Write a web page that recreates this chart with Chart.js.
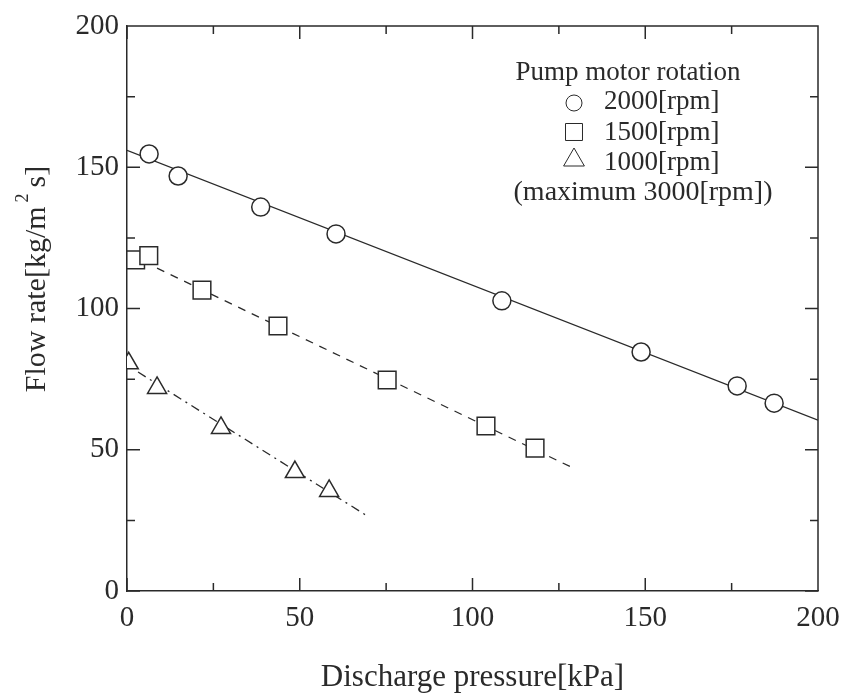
<!DOCTYPE html>
<html>
<head>
<meta charset="utf-8">
<script src="https://cdn.jsdelivr.net/npm/chart.js@4/dist/chart.umd.min.js"></script>
<style>
  html, body { margin: 0; background: #fff; }
  #wrap { width: 846px; height: 693px; }
</style>
</head>
<body>
<div id="wrap"><canvas id="chart"></canvas></div>
<script>
const press2000 = [6.4, 14.8, 38.7, 60.5, 108.5, 148.8, 176.6, 187.3];
const flow2000 = [154.7, 146.9, 135.9, 126.4, 102.7, 84.6, 72.6, 66.5];
const press1500 = [2.5, 6.3, 21.7, 43.7, 75.3, 103.9, 118.1];
const flow1500 = [117.2, 118.7, 106.5, 93.8, 74.7, 58.4, 50.6];
const press1000 = [0.5, 8.7, 27.2, 48.6, 58.5];
const flow1000 = [80.6, 71.9, 57.7, 42.1, 35.4];

// fitted lines (end points)
const fit2000 = [[0, 156], [200, 60.5]];
const fit1500 = [[8.7, 114.3], [128.5, 43.9]];
const fit1000 = [[3.2, 77.5], [70.0, 26.2]];

const legendLabels = ["2000[rpm]", "1500[rpm]", "1000[rpm]"];

const INK = '#2a2a2a';
const FONT = '"Liberation Serif", "DejaVu Serif", serif';

function pts(xs, ys) {
  return xs.map((x, i) => ({ x: x, y: ys[i] }));
}
function line(p) {
  return p.map(([x, y]) => ({ x, y }));
}

// inward ticks on all four sides + top/right frame
const frameTicks = {
  id: 'frameTicks',
  afterDatasetsDraw(chart) {
    const { ctx, chartArea: a, scales } = chart;
    ctx.save();
    ctx.strokeStyle = INK;
    ctx.lineWidth = 1.5;
    ctx.beginPath();
    ctx.moveTo(a.left, a.top); ctx.lineTo(a.right, a.top); ctx.lineTo(a.right, a.bottom);
    for (let v = 0; v <= 200; v += 25) {
      const len = v % 50 === 0 ? 13 : 8;
      const px = scales.x.getPixelForValue(v);
      ctx.moveTo(px, a.bottom); ctx.lineTo(px, a.bottom - len);
      ctx.moveTo(px, a.top); ctx.lineTo(px, a.top + len);
      const py = scales.y.getPixelForValue(v);
      ctx.moveTo(a.left, py); ctx.lineTo(a.left + len, py);
      ctx.moveTo(a.right, py); ctx.lineTo(a.right - len, py);
    }
    ctx.stroke();
    ctx.restore();
  }
};

// y title with raised 2, legend box inside the plot
const extraText = {
  id: 'extraText',
  afterDraw(chart) {
    const { ctx } = chart;
    ctx.save();
    ctx.fillStyle = INK;
    ctx.strokeStyle = INK;

    // y axis title
    ctx.translate(45, 279);
    ctx.rotate(-Math.PI / 2);
    ctx.textBaseline = 'alphabetic';
    ctx.textAlign = 'left';
    const big = '30px ' + FONT, small = '18px ' + FONT;
    ctx.font = big;
    const w1 = ctx.measureText('Flow rate[kg/m').width;
    const w3 = ctx.measureText('s]').width;
    ctx.font = small;
    const w2 = ctx.measureText('2').width;
    const total = w1 + 4 + w2 + 6 + w3;
    let x0 = -total / 2;
    ctx.font = big;
    ctx.fillText('Flow rate[kg/m', x0, 0);
    ctx.font = small;
    ctx.fillText('2', x0 + w1 + 4, -17);
    ctx.font = big;
    ctx.fillText('s]', x0 + w1 + 4 + w2 + 6, 0);
    ctx.setTransform(1, 0, 0, 1, 0, 0);

    // legend
    ctx.textBaseline = 'middle';
    ctx.textAlign = 'center';
    ctx.font = '27px ' + FONT;
    ctx.fillText('Pump motor rotation', 628, 73);
    const styles = ['circle', 'rect', 'triangle'];
    const radii = [8, 12, 12];
    const markY = [103, 132, 160];
    legendLabels.forEach((t, i) => {
      const y = 102 + i * 30.5;
      ctx.fillStyle = '#fff';
      Chart.helpers.drawPoint(ctx, { pointStyle: styles[i], radius: radii[i], rotation: 0, borderWidth: 1.5 }, 574, markY[i]);
      ctx.fillStyle = INK;
      ctx.textAlign = 'left';
      ctx.fillText(t, 604, y);
    });
    ctx.textAlign = 'center';
    ctx.font = '28px ' + FONT;
    ctx.fillText('(maximum 3000[rpm])', 643, 193);
    ctx.restore();
  }
};

const markerBase = {
  showLine: false,
  borderColor: INK,
  backgroundColor: '#fff',
  borderWidth: 1.5,
  order: 0
};
const fitBase = {
  showLine: true,
  pointRadius: 0,
  borderColor: INK,
  borderWidth: 1.3,
  fill: false,
  order: 1
};

new Chart(document.getElementById('chart'), {
  type: 'scatter',
  data: {
    datasets: [
      { ...fitBase, data: line(fit2000) },
      { ...fitBase, data: line(fit1500), borderDash: [8, 7] },
      { ...fitBase, data: line(fit1000), borderDash: [9, 5, 2, 5] },
      { ...markerBase, data: pts(press2000, flow2000), pointStyle: 'circle', pointRadius: 9 },
      { ...markerBase, data: pts(press1500, flow1500), pointStyle: 'rect', pointRadius: 12.5 },
      { ...markerBase, data: pts(press1000, flow1000), pointStyle: 'triangle', pointRadius: 11 }
    ]
  },
  options: {
    responsive: true,
    maintainAspectRatio: false,
    animation: false,
    layout: { padding: { top: 26, right: 28, left: 0, bottom: 0 } },
    plugins: {
      legend: { display: false },
      tooltip: { enabled: false }
    },
    scales: {
      x: {
        type: 'linear',
        min: 0, max: 200,
        grid: { display: false },
        border: { display: true, color: INK, width: 1.5 },
        ticks: { stepSize: 50, color: INK, padding: 2, font: { family: FONT, size: 29 } },
        title: {
          display: true,
          text: 'Discharge pressure[kPa]',
          color: INK,
          font: { family: FONT, size: 31, lineHeight: 1.0 },
          padding: { top: 0, bottom: 0 }
        },
        afterFit(scale) { scale.height = 102; }
      },
      y: {
        type: 'linear',
        min: 0, max: 200,
        grid: { display: false },
        border: { display: true, color: INK, width: 1.5 },
        ticks: { stepSize: 50, color: INK, padding: 0, font: { family: FONT, size: 29 } },
        afterFit(scale) { scale.width = 127; }
      }
    }
  },
  plugins: [frameTicks, extraText]
});
</script>
</body>
</html>
